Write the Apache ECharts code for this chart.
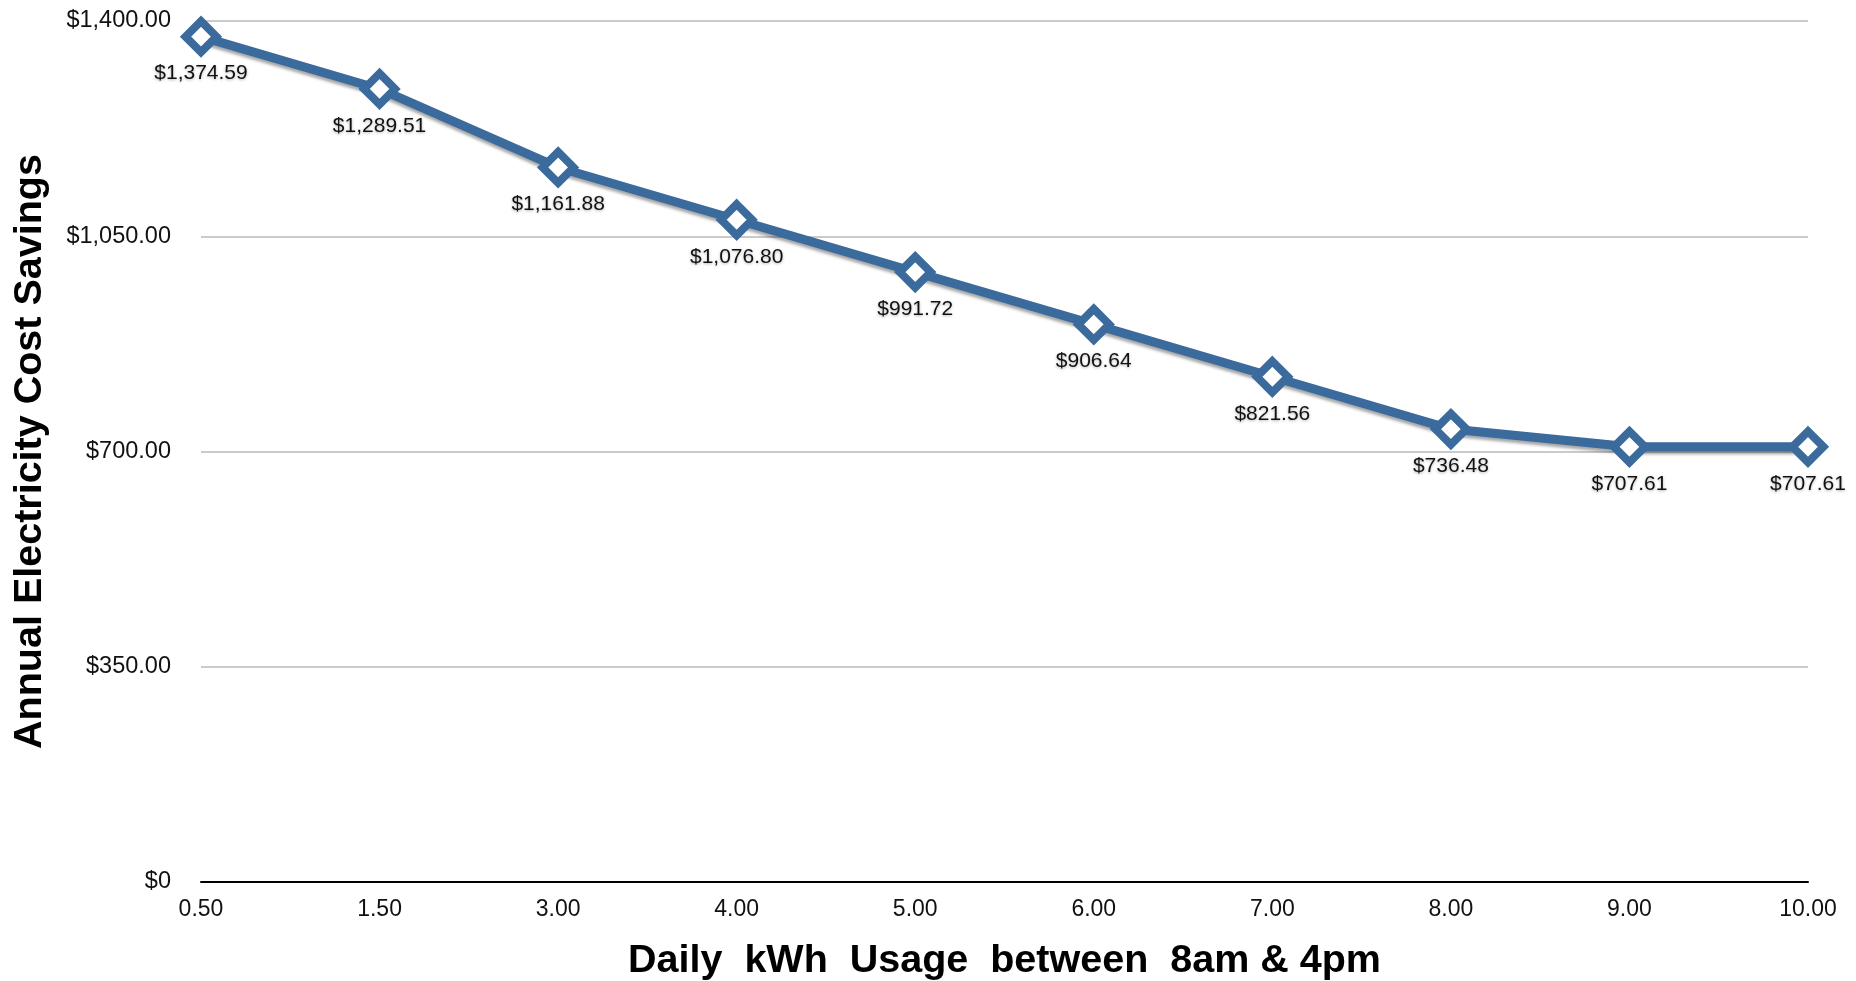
<!DOCTYPE html>
<html><head><meta charset="utf-8">
<script src="https://cdn.jsdelivr.net/npm/echarts@6/dist/echarts.min.js"></script>
<style>html,body{margin:0;padding:0;background:#fff}#c{width:1856px;height:981px}</style>
</head><body><div id="c"></div>
<script>
const categories = ['0.50','1.50','3.00','4.00','5.00','6.00','7.00','8.00','9.00','10.00'];
const savings = [1374.59,1289.51,1161.88,1076.80,991.72,906.64,821.56,736.48,707.61,707.61];
const yTicks = [0,350,700,1050,1400];
const xTitle = 'Daily  kWh  Usage  between  8am & 4pm';
const yTitle = 'Annual Electricity Cost Savings';

function money(v, dec){
  return '$' + v.toLocaleString('en-US',{minimumFractionDigits:dec,maximumFractionDigits:dec});
}
const chart = echarts.init(document.getElementById('c'), null, {renderer:'canvas'});
chart.setOption({
  animation:false,
  grid:{left:201,right:48,top:21,bottom:99,containLabel:false,outerBoundsMode:'none'},
  xAxis:{
    type:'category', data:categories, boundaryGap:false,
    axisLine:{lineStyle:{color:'#000',width:2}},
    axisTick:{show:false},
    axisLabel:{color:'#111',fontSize:23,fontFamily:'Liberation Sans, Arial',margin:16},
    name:xTitle, nameLocation:'middle', nameGap:59,
    nameTextStyle:{fontSize:39.5,fontWeight:'bold',color:'#000',fontFamily:'Liberation Sans, Arial'}
  },
  yAxis:{
    type:'value', min:yTicks[0], max:yTicks[yTicks.length-1], interval:350,
    axisLine:{show:false}, axisTick:{show:false},
    splitLine:{lineStyle:{color:'#b8b8b8',width:1.5}},
    axisLabel:{color:'#111',fontSize:23.5,fontFamily:'Liberation Sans, Arial',margin:30,
      formatter:v=> v===0 ? '$0' : money(v,2)},
    name:yTitle, nameLocation:'middle', nameGap:151, nameRotate:90,
    nameTextStyle:{fontSize:39.5,fontWeight:'bold',color:'#000',fontFamily:'Liberation Sans, Arial'}
  },
  series:[{
    type:'line', data:savings,
    lineStyle:{color:'#3b6a9c',width:9,shadowColor:'rgba(0,0,0,0.35)',shadowBlur:3,shadowOffsetY:3},
    symbol:'diamond', symbolSize:31,
    itemStyle:{color:'#fff',borderColor:'#3b6a9c',borderWidth:8},
    label:{show:true,position:'bottom',distance:7,color:'#111',fontSize:21,
      fontFamily:'Liberation Sans, Arial',
      textShadowColor:'rgba(0,0,0,0.3)',textShadowBlur:3,textShadowOffsetY:1,
      formatter:p=>money(p.value,2)},
    z:3
  }]
});
</script></body></html>
